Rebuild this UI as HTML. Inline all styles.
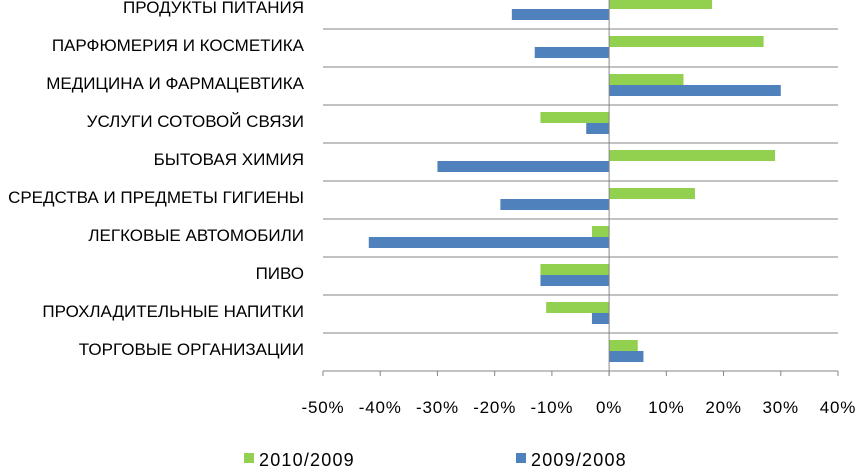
<!DOCTYPE html>
<html><head><meta charset="utf-8"><style>
body{margin:0;background:#fff;}
svg{display:block;font-family:"Liberation Sans","DejaVu Sans",sans-serif;}
</style></head><body>
<svg id="chart" width="858" height="468"></svg>
<script>
const categories=["ПРОДУКТЫ ПИТАНИЯ","ПАРФЮМЕРИЯ И КОСМЕТИКА","МЕДИЦИНА И ФАРМАЦЕВТИКА","УСЛУГИ СОТОВОЙ СВЯЗИ","БЫТОВАЯ ХИМИЯ","СРЕДСТВА И ПРЕДМЕТЫ ГИГИЕНЫ","ЛЕГКОВЫЕ АВТОМОБИЛИ","ПИВО","ПРОХЛАДИТЕЛЬНЫЕ НАПИТКИ","ТОРГОВЫЕ ОРГАНИЗАЦИИ"];
const series2010=[18,27,13,-12,29,15,-3,-12,-11,5];
const series2009=[-17,-13,30,-4,-30,-19,-42,-12,-3,6];
const ticks=[-50,-40,-30,-20,-10,0,10,20,30,40];
const NS="http://www.w3.org/2000/svg";
const svgEl=document.getElementById("chart");
const x0=323,x1=838,plotTop=-9,plotBottom=371;
const xs=v=>x0+(v-(-50))/90*(x1-x0);
const rowH=(plotBottom-plotTop)/categories.length;
function mk(t,a){const e=document.createElementNS(NS,t);for(const k in a)e.setAttribute(k,a[k]);svgEl.appendChild(e);return e;}
for(let i=1;i<=categories.length;i++){
  const g=mk("line",{x1:x0,x2:x1,y1:plotTop+i*rowH,y2:plotTop+i*rowH,stroke:"#868686","stroke-width":1});
  
  
}
categories.forEach((c,i)=>{
  const yc=plotTop+i*rowH+rowH/2;
  const t=mk("text",{x:304,y:yc+3,"text-anchor":"end","font-size":"17",fill:"#000"});
  t.textContent=c;
  
  
  const v1=series2010[i],v2=series2009[i];
  const b1=mk("rect",{x:Math.min(xs(0),xs(v1)),y:yc-12,width:Math.abs(xs(v1)-xs(0)),height:11,fill:"#92d050"});
  
  
  const b2=mk("rect",{x:Math.min(xs(0),xs(v2)),y:yc-1,width:Math.abs(xs(v2)-xs(0)),height:11,fill:"#4f81bd"});
  
  
});
const ax=mk("line",{x1:xs(0),x2:xs(0),y1:0,y2:plotBottom+5,stroke:"#868686"});


ticks.forEach(v=>{
  const tk=mk("line",{x1:xs(v),x2:xs(v),y1:plotBottom,y2:plotBottom+5,stroke:"#868686"});
  
  
  const t=mk("text",{x:xs(v),y:plotBottom+42,"text-anchor":"middle","font-size":"17","letter-spacing":"0.8"});
  t.textContent=v+"%";
  
  
});
const legend=[["#92d050","2010/2009",244],["#4f81bd","2009/2008",516]];
legend.forEach(l=>{
  const r=mk("rect",{x:l[2],y:453,width:10,height:10,fill:l[0]});
  
  
  const t=mk("text",{x:l[2]+15,y:466,"font-size":"18","letter-spacing":"1.2"});
  t.textContent=l[1];
  
  
});
</script>
</body></html>
